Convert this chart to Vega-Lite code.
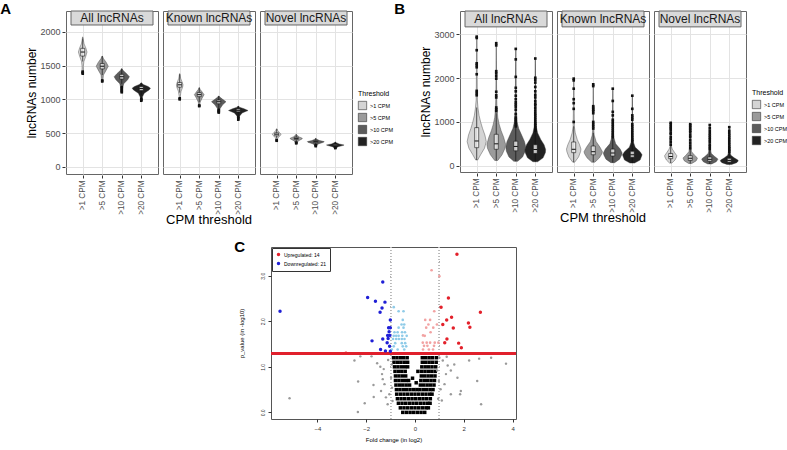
{
 "$schema": "https://vega.github.io/schema/vega-lite/v6.json",
 "padding": {"left": 0, "top": 2, "right": 0, "bottom": 0},
 "config": {
  "font": "Liberation Sans",
  "view": {"stroke": "#666", "strokeWidth": 1},
  "axis": {"domain": false, "labelColor": "#4d4d4d", "tickColor": "#333", "titleColor": "#000", "titleFontWeight": "normal", "labelFont": "Liberation Sans", "titleFont": "Liberation Sans"},
  "legend": {"layout": {"right": {"anchor": "middle"}}},
  "title": {"fontWeight": "bold", "fontSize": 15, "color": "#000", "font": "Liberation Sans"}
 },
 "datasets": {
  "A": [
   {"m":"s","p":"All lncRNAs"},{"m":"s","p":"Known lncRNAs"},{"m":"s","p":"Novel lncRNAs"},
   {"m":"v","p":"All lncRNAs","t":">1 CPM","y":1380,"lo":0.98,"hi":1.02},
   {"m":"v","p":"All lncRNAs","t":">1 CPM","y":1420,"lo":0.96,"hi":1.04},
   {"m":"v","p":"All lncRNAs","t":">1 CPM","y":1480,"lo":0.97,"hi":1.03},
   {"m":"v","p":"All lncRNAs","t":">1 CPM","y":1560,"lo":0.94,"hi":1.06},
   {"m":"v","p":"All lncRNAs","t":">1 CPM","y":1640,"lo":0.84,"hi":1.16},
   {"m":"v","p":"All lncRNAs","t":">1 CPM","y":1700,"lo":0.78,"hi":1.22},
   {"m":"v","p":"All lncRNAs","t":">1 CPM","y":1760,"lo":0.84,"hi":1.16},
   {"m":"v","p":"All lncRNAs","t":">1 CPM","y":1820,"lo":0.93,"hi":1.07},
   {"m":"v","p":"All lncRNAs","t":">1 CPM","y":1880,"lo":0.97,"hi":1.03},
   {"m":"v","p":"All lncRNAs","t":">1 CPM","y":1923,"lo":0.99,"hi":1.01},
   {"m":"v","p":"All lncRNAs","t":">5 CPM","y":1260,"lo":1.98,"hi":2.02},
   {"m":"v","p":"All lncRNAs","t":">5 CPM","y":1300,"lo":1.96,"hi":2.04},
   {"m":"v","p":"All lncRNAs","t":">5 CPM","y":1360,"lo":1.94,"hi":2.06},
   {"m":"v","p":"All lncRNAs","t":">5 CPM","y":1420,"lo":1.82,"hi":2.18},
   {"m":"v","p":"All lncRNAs","t":">5 CPM","y":1490,"lo":1.69,"hi":2.31},
   {"m":"v","p":"All lncRNAs","t":">5 CPM","y":1550,"lo":1.8,"hi":2.2},
   {"m":"v","p":"All lncRNAs","t":">5 CPM","y":1600,"lo":1.93,"hi":2.07},
   {"m":"v","p":"All lncRNAs","t":">5 CPM","y":1640,"lo":1.99,"hi":2.01},
   {"m":"v","p":"All lncRNAs","t":">10 CPM","y":1100,"lo":2.98,"hi":3.02},
   {"m":"v","p":"All lncRNAs","t":">10 CPM","y":1160,"lo":2.96,"hi":3.04},
   {"m":"v","p":"All lncRNAs","t":">10 CPM","y":1230,"lo":2.9,"hi":3.1},
   {"m":"v","p":"All lncRNAs","t":">10 CPM","y":1290,"lo":2.7,"hi":3.3},
   {"m":"v","p":"All lncRNAs","t":">10 CPM","y":1335,"lo":2.61,"hi":3.39},
   {"m":"v","p":"All lncRNAs","t":">10 CPM","y":1380,"lo":2.75,"hi":3.25},
   {"m":"v","p":"All lncRNAs","t":">10 CPM","y":1430,"lo":2.94,"hi":3.06},
   {"m":"v","p":"All lncRNAs","t":">10 CPM","y":1455,"lo":2.99,"hi":3.01},
   {"m":"v","p":"All lncRNAs","t":">20 CPM","y":975,"lo":3.98,"hi":4.02},
   {"m":"v","p":"All lncRNAs","t":">20 CPM","y":1030,"lo":3.95,"hi":4.05},
   {"m":"v","p":"All lncRNAs","t":">20 CPM","y":1090,"lo":3.85,"hi":4.15},
   {"m":"v","p":"All lncRNAs","t":">20 CPM","y":1140,"lo":3.6,"hi":4.4},
   {"m":"v","p":"All lncRNAs","t":">20 CPM","y":1165,"lo":3.53,"hi":4.47},
   {"m":"v","p":"All lncRNAs","t":">20 CPM","y":1190,"lo":3.65,"hi":4.35},
   {"m":"v","p":"All lncRNAs","t":">20 CPM","y":1220,"lo":3.9,"hi":4.1},
   {"m":"v","p":"All lncRNAs","t":">20 CPM","y":1245,"lo":3.99,"hi":4.01},
   {"m":"v","p":"Known lncRNAs","t":">1 CPM","y":1000,"lo":0.98,"hi":1.02},
   {"m":"v","p":"Known lncRNAs","t":">1 CPM","y":1050,"lo":0.97,"hi":1.03},
   {"m":"v","p":"Known lncRNAs","t":">1 CPM","y":1120,"lo":0.93,"hi":1.07},
   {"m":"v","p":"Known lncRNAs","t":">1 CPM","y":1180,"lo":0.85,"hi":1.15},
   {"m":"v","p":"Known lncRNAs","t":">1 CPM","y":1215,"lo":0.83,"hi":1.17},
   {"m":"v","p":"Known lncRNAs","t":">1 CPM","y":1260,"lo":0.88,"hi":1.12},
   {"m":"v","p":"Known lncRNAs","t":">1 CPM","y":1310,"lo":0.95,"hi":1.05},
   {"m":"v","p":"Known lncRNAs","t":">1 CPM","y":1380,"lo":0.99,"hi":1.01},
   {"m":"v","p":"Known lncRNAs","t":">5 CPM","y":900,"lo":1.98,"hi":2.02},
   {"m":"v","p":"Known lncRNAs","t":">5 CPM","y":960,"lo":1.95,"hi":2.05},
   {"m":"v","p":"Known lncRNAs","t":">5 CPM","y":1020,"lo":1.85,"hi":2.15},
   {"m":"v","p":"Known lncRNAs","t":">5 CPM","y":1070,"lo":1.75,"hi":2.25},
   {"m":"v","p":"Known lncRNAs","t":">5 CPM","y":1110,"lo":1.85,"hi":2.15},
   {"m":"v","p":"Known lncRNAs","t":">5 CPM","y":1150,"lo":1.96,"hi":2.04},
   {"m":"v","p":"Known lncRNAs","t":">5 CPM","y":1175,"lo":1.99,"hi":2.01},
   {"m":"v","p":"Known lncRNAs","t":">10 CPM","y":800,"lo":2.98,"hi":3.02},
   {"m":"v","p":"Known lncRNAs","t":">10 CPM","y":860,"lo":2.94,"hi":3.06},
   {"m":"v","p":"Known lncRNAs","t":">10 CPM","y":920,"lo":2.8,"hi":3.2},
   {"m":"v","p":"Known lncRNAs","t":">10 CPM","y":965,"lo":2.63,"hi":3.37},
   {"m":"v","p":"Known lncRNAs","t":">10 CPM","y":1000,"lo":2.8,"hi":3.2},
   {"m":"v","p":"Known lncRNAs","t":">10 CPM","y":1035,"lo":2.95,"hi":3.05},
   {"m":"v","p":"Known lncRNAs","t":">10 CPM","y":1050,"lo":2.99,"hi":3.01},
   {"m":"v","p":"Known lncRNAs","t":">20 CPM","y":695,"lo":3.98,"hi":4.02},
   {"m":"v","p":"Known lncRNAs","t":">20 CPM","y":750,"lo":3.94,"hi":4.06},
   {"m":"v","p":"Known lncRNAs","t":">20 CPM","y":800,"lo":3.8,"hi":4.2},
   {"m":"v","p":"Known lncRNAs","t":">20 CPM","y":835,"lo":3.5,"hi":4.5},
   {"m":"v","p":"Known lncRNAs","t":">20 CPM","y":860,"lo":3.7,"hi":4.3},
   {"m":"v","p":"Known lncRNAs","t":">20 CPM","y":885,"lo":3.94,"hi":4.06},
   {"m":"v","p":"Known lncRNAs","t":">20 CPM","y":902,"lo":3.99,"hi":4.01},
   {"m":"v","p":"Novel lncRNAs","t":">1 CPM","y":385,"lo":0.98,"hi":1.02},
   {"m":"v","p":"Novel lncRNAs","t":">1 CPM","y":430,"lo":0.94,"hi":1.06},
   {"m":"v","p":"Novel lncRNAs","t":">1 CPM","y":470,"lo":0.8,"hi":1.2},
   {"m":"v","p":"Novel lncRNAs","t":">1 CPM","y":485,"lo":0.78,"hi":1.22},
   {"m":"v","p":"Novel lncRNAs","t":">1 CPM","y":510,"lo":0.86,"hi":1.14},
   {"m":"v","p":"Novel lncRNAs","t":">1 CPM","y":540,"lo":0.95,"hi":1.05},
   {"m":"v","p":"Novel lncRNAs","t":">1 CPM","y":565,"lo":0.99,"hi":1.01},
   {"m":"v","p":"Novel lncRNAs","t":">5 CPM","y":345,"lo":1.98,"hi":2.02},
   {"m":"v","p":"Novel lncRNAs","t":">5 CPM","y":385,"lo":1.9,"hi":2.1},
   {"m":"v","p":"Novel lncRNAs","t":">5 CPM","y":415,"lo":1.7,"hi":2.3},
   {"m":"v","p":"Novel lncRNAs","t":">5 CPM","y":425,"lo":1.69,"hi":2.31},
   {"m":"v","p":"Novel lncRNAs","t":">5 CPM","y":445,"lo":1.85,"hi":2.15},
   {"m":"v","p":"Novel lncRNAs","t":">5 CPM","y":470,"lo":1.96,"hi":2.04},
   {"m":"v","p":"Novel lncRNAs","t":">5 CPM","y":483,"lo":1.99,"hi":2.01},
   {"m":"v","p":"Novel lncRNAs","t":">10 CPM","y":300,"lo":2.98,"hi":3.02},
   {"m":"v","p":"Novel lncRNAs","t":">10 CPM","y":340,"lo":2.88,"hi":3.12},
   {"m":"v","p":"Novel lncRNAs","t":">10 CPM","y":365,"lo":2.6,"hi":3.4},
   {"m":"v","p":"Novel lncRNAs","t":">10 CPM","y":375,"lo":2.57,"hi":3.43},
   {"m":"v","p":"Novel lncRNAs","t":">10 CPM","y":390,"lo":2.8,"hi":3.2},
   {"m":"v","p":"Novel lncRNAs","t":">10 CPM","y":410,"lo":2.95,"hi":3.05},
   {"m":"v","p":"Novel lncRNAs","t":">10 CPM","y":424,"lo":2.99,"hi":3.01},
   {"m":"v","p":"Novel lncRNAs","t":">20 CPM","y":277,"lo":3.98,"hi":4.02},
   {"m":"v","p":"Novel lncRNAs","t":">20 CPM","y":300,"lo":3.85,"hi":4.15},
   {"m":"v","p":"Novel lncRNAs","t":">20 CPM","y":320,"lo":3.58,"hi":4.42},
   {"m":"v","p":"Novel lncRNAs","t":">20 CPM","y":325,"lo":3.55,"hi":4.45},
   {"m":"v","p":"Novel lncRNAs","t":">20 CPM","y":340,"lo":3.8,"hi":4.2},
   {"m":"v","p":"Novel lncRNAs","t":">20 CPM","y":360,"lo":3.95,"hi":4.05},
   {"m":"v","p":"Novel lncRNAs","t":">20 CPM","y":370,"lo":3.99,"hi":4.01},
   {"m":"b","p":"All lncRNAs","t":">1 CPM","x":1,"q1":1640,"md":1700,"q3":1755,"lw":1560,"uw":1900},
   {"m":"b","p":"All lncRNAs","t":">5 CPM","x":2,"q1":1450,"md":1490,"q3":1530,"lw":1360,"uw":1640},
   {"m":"b","p":"All lncRNAs","t":">10 CPM","x":3,"q1":1300,"md":1335,"q3":1370,"lw":1230,"uw":1450},
   {"m":"b","p":"All lncRNAs","t":">20 CPM","x":4,"q1":1130,"md":1160,"q3":1190,"lw":1060,"uw":1240},
   {"m":"b","p":"Known lncRNAs","t":">1 CPM","x":1,"q1":1180,"md":1215,"q3":1250,"lw":1100,"uw":1370},
   {"m":"b","p":"Known lncRNAs","t":">5 CPM","x":2,"q1":1040,"md":1070,"q3":1100,"lw":960,"uw":1170},
   {"m":"b","p":"Known lncRNAs","t":">10 CPM","x":3,"q1":935,"md":965,"q3":990,"lw":860,"uw":1050},
   {"m":"b","p":"Known lncRNAs","t":">20 CPM","x":4,"q1":815,"md":838,"q3":860,"lw":760,"uw":900},
   {"m":"b","p":"Novel lncRNAs","t":">1 CPM","x":1,"q1":460,"md":485,"q3":505,"lw":420,"uw":560},
   {"m":"b","p":"Novel lncRNAs","t":">5 CPM","x":2,"q1":405,"md":423,"q3":440,"lw":370,"uw":480},
   {"m":"b","p":"Novel lncRNAs","t":">10 CPM","x":3,"q1":360,"md":375,"q3":390,"lw":335,"uw":420},
   {"m":"b","p":"Novel lncRNAs","t":">20 CPM","x":4,"q1":315,"md":325,"q3":337,"lw":295,"uw":368},
   {"m":"o","p":"All lncRNAs","x":1,"y":1410},{"m":"o","p":"All lncRNAs","x":1,"y":1395},{"m":"o","p":"All lncRNAs","x":1,"y":1380},
   {"m":"o","p":"All lncRNAs","x":2,"y":1280},{"m":"o","p":"All lncRNAs","x":2,"y":1265},
   {"m":"o","p":"All lncRNAs","x":3,"y":1180},{"m":"o","p":"All lncRNAs","x":3,"y":1160},{"m":"o","p":"All lncRNAs","x":3,"y":1140},{"m":"o","p":"All lncRNAs","x":3,"y":1120},{"m":"o","p":"All lncRNAs","x":3,"y":1105},
   {"m":"o","p":"All lncRNAs","x":4,"y":1010},{"m":"o","p":"All lncRNAs","x":4,"y":995},{"m":"o","p":"All lncRNAs","x":4,"y":980},
   {"m":"o","p":"Known lncRNAs","x":1,"y":1015},{"m":"o","p":"Known lncRNAs","x":1,"y":1000},
   {"m":"o","p":"Known lncRNAs","x":2,"y":910},{"m":"o","p":"Known lncRNAs","x":2,"y":900},
   {"m":"o","p":"Known lncRNAs","x":3,"y":845},{"m":"o","p":"Known lncRNAs","x":3,"y":830},{"m":"o","p":"Known lncRNAs","x":3,"y":815},{"m":"o","p":"Known lncRNAs","x":3,"y":805},
   {"m":"o","p":"Known lncRNAs","x":4,"y":740},{"m":"o","p":"Known lncRNAs","x":4,"y":720},{"m":"o","p":"Known lncRNAs","x":4,"y":700},
   {"m":"o","p":"Novel lncRNAs","x":1,"y":395},{"m":"o","p":"Novel lncRNAs","x":1,"y":388},
   {"m":"o","p":"Novel lncRNAs","x":2,"y":360},{"m":"o","p":"Novel lncRNAs","x":2,"y":350},
   {"m":"o","p":"Novel lncRNAs","x":3,"y":320},{"m":"o","p":"Novel lncRNAs","x":3,"y":308},
   {"m":"o","p":"Novel lncRNAs","x":4,"y":285},{"m":"o","p":"Novel lncRNAs","x":4,"y":279}
  ],
  "B": [
   {"m":"s","p":"All lncRNAs"},{"m":"s","p":"Known lncRNAs"},{"m":"s","p":"Novel lncRNAs"},
   {"m":"v","p":"All lncRNAs","t":">1 CPM","y":130,"lo":0.95,"hi":1.05},
   {"m":"v","p":"All lncRNAs","t":">1 CPM","y":250,"lo":0.8,"hi":1.2},
   {"m":"v","p":"All lncRNAs","t":">1 CPM","y":400,"lo":0.6,"hi":1.4},
   {"m":"v","p":"All lncRNAs","t":">1 CPM","y":550,"lo":0.51,"hi":1.49},
   {"m":"v","p":"All lncRNAs","t":">1 CPM","y":700,"lo":0.58,"hi":1.42},
   {"m":"v","p":"All lncRNAs","t":">1 CPM","y":850,"lo":0.7,"hi":1.3},
   {"m":"v","p":"All lncRNAs","t":">1 CPM","y":1000,"lo":0.8,"hi":1.2},
   {"m":"v","p":"All lncRNAs","t":">1 CPM","y":1150,"lo":0.88,"hi":1.12},
   {"m":"v","p":"All lncRNAs","t":">1 CPM","y":1300,"lo":0.93,"hi":1.07},
   {"m":"v","p":"All lncRNAs","t":">1 CPM","y":1500,"lo":0.97,"hi":1.03},
   {"m":"v","p":"All lncRNAs","t":">1 CPM","y":1800,"lo":0.98,"hi":1.02},
   {"m":"v","p":"All lncRNAs","t":">1 CPM","y":2200,"lo":0.985,"hi":1.015},
   {"m":"v","p":"All lncRNAs","t":">1 CPM","y":2600,"lo":0.99,"hi":1.01},
   {"m":"v","p":"All lncRNAs","t":">1 CPM","y":2950,"lo":0.995,"hi":1.005},
   {"m":"v","p":"All lncRNAs","t":">5 CPM","y":120,"lo":1.92,"hi":2.08},
   {"m":"v","p":"All lncRNAs","t":">5 CPM","y":250,"lo":1.7,"hi":2.3},
   {"m":"v","p":"All lncRNAs","t":">5 CPM","y":400,"lo":1.55,"hi":2.45},
   {"m":"v","p":"All lncRNAs","t":">5 CPM","y":490,"lo":1.52,"hi":2.48},
   {"m":"v","p":"All lncRNAs","t":">5 CPM","y":650,"lo":1.62,"hi":2.38},
   {"m":"v","p":"All lncRNAs","t":">5 CPM","y":800,"lo":1.75,"hi":2.25},
   {"m":"v","p":"All lncRNAs","t":">5 CPM","y":950,"lo":1.85,"hi":2.15},
   {"m":"v","p":"All lncRNAs","t":">5 CPM","y":1100,"lo":1.92,"hi":2.08},
   {"m":"v","p":"All lncRNAs","t":">5 CPM","y":1300,"lo":1.96,"hi":2.04},
   {"m":"v","p":"All lncRNAs","t":">5 CPM","y":1600,"lo":1.98,"hi":2.02},
   {"m":"v","p":"All lncRNAs","t":">5 CPM","y":2000,"lo":1.985,"hi":2.015},
   {"m":"v","p":"All lncRNAs","t":">5 CPM","y":2400,"lo":1.99,"hi":2.01},
   {"m":"v","p":"All lncRNAs","t":">5 CPM","y":2800,"lo":1.995,"hi":2.005},
   {"m":"v","p":"All lncRNAs","t":">10 CPM","y":100,"lo":2.9,"hi":3.1},
   {"m":"v","p":"All lncRNAs","t":">10 CPM","y":200,"lo":2.65,"hi":3.35},
   {"m":"v","p":"All lncRNAs","t":">10 CPM","y":330,"lo":2.52,"hi":3.48},
   {"m":"v","p":"All lncRNAs","t":">10 CPM","y":430,"lo":2.49,"hi":3.51},
   {"m":"v","p":"All lncRNAs","t":">10 CPM","y":550,"lo":2.55,"hi":3.45},
   {"m":"v","p":"All lncRNAs","t":">10 CPM","y":700,"lo":2.7,"hi":3.3},
   {"m":"v","p":"All lncRNAs","t":">10 CPM","y":850,"lo":2.85,"hi":3.15},
   {"m":"v","p":"All lncRNAs","t":">10 CPM","y":1000,"lo":2.93,"hi":3.07},
   {"m":"v","p":"All lncRNAs","t":">10 CPM","y":1200,"lo":2.965,"hi":3.035},
   {"m":"v","p":"All lncRNAs","t":">10 CPM","y":1500,"lo":2.98,"hi":3.02},
   {"m":"v","p":"All lncRNAs","t":">10 CPM","y":2000,"lo":2.985,"hi":3.015},
   {"m":"v","p":"All lncRNAs","t":">10 CPM","y":2670,"lo":2.995,"hi":3.005},
   {"m":"v","p":"All lncRNAs","t":">20 CPM","y":90,"lo":3.88,"hi":4.12},
   {"m":"v","p":"All lncRNAs","t":">20 CPM","y":180,"lo":3.6,"hi":4.4},
   {"m":"v","p":"All lncRNAs","t":">20 CPM","y":300,"lo":3.48,"hi":4.52},
   {"m":"v","p":"All lncRNAs","t":">20 CPM","y":370,"lo":3.47,"hi":4.53},
   {"m":"v","p":"All lncRNAs","t":">20 CPM","y":480,"lo":3.55,"hi":4.45},
   {"m":"v","p":"All lncRNAs","t":">20 CPM","y":600,"lo":3.72,"hi":4.28},
   {"m":"v","p":"All lncRNAs","t":">20 CPM","y":750,"lo":3.88,"hi":4.12},
   {"m":"v","p":"All lncRNAs","t":">20 CPM","y":900,"lo":3.95,"hi":4.05},
   {"m":"v","p":"All lncRNAs","t":">20 CPM","y":1100,"lo":3.97,"hi":4.03},
   {"m":"v","p":"All lncRNAs","t":">20 CPM","y":1400,"lo":3.98,"hi":4.02},
   {"m":"v","p":"All lncRNAs","t":">20 CPM","y":1900,"lo":3.988,"hi":4.012},
   {"m":"v","p":"All lncRNAs","t":">20 CPM","y":2450,"lo":3.995,"hi":4.005},
   {"m":"v","p":"Known lncRNAs","t":">1 CPM","y":80,"lo":0.95,"hi":1.05},
   {"m":"v","p":"Known lncRNAs","t":">1 CPM","y":200,"lo":0.75,"hi":1.25},
   {"m":"v","p":"Known lncRNAs","t":">1 CPM","y":320,"lo":0.65,"hi":1.35},
   {"m":"v","p":"Known lncRNAs","t":">1 CPM","y":380,"lo":0.63,"hi":1.37},
   {"m":"v","p":"Known lncRNAs","t":">1 CPM","y":480,"lo":0.7,"hi":1.3},
   {"m":"v","p":"Known lncRNAs","t":">1 CPM","y":600,"lo":0.82,"hi":1.18},
   {"m":"v","p":"Known lncRNAs","t":">1 CPM","y":750,"lo":0.92,"hi":1.08},
   {"m":"v","p":"Known lncRNAs","t":">1 CPM","y":900,"lo":0.97,"hi":1.03},
   {"m":"v","p":"Known lncRNAs","t":">1 CPM","y":1200,"lo":0.98,"hi":1.02},
   {"m":"v","p":"Known lncRNAs","t":">1 CPM","y":1600,"lo":0.99,"hi":1.01},
   {"m":"v","p":"Known lncRNAs","t":">1 CPM","y":1980,"lo":0.995,"hi":1.005},
   {"m":"v","p":"Known lncRNAs","t":">5 CPM","y":80,"lo":1.92,"hi":2.08},
   {"m":"v","p":"Known lncRNAs","t":">5 CPM","y":180,"lo":1.68,"hi":2.32},
   {"m":"v","p":"Known lncRNAs","t":">5 CPM","y":280,"lo":1.55,"hi":2.45},
   {"m":"v","p":"Known lncRNAs","t":">5 CPM","y":320,"lo":1.53,"hi":2.47},
   {"m":"v","p":"Known lncRNAs","t":">5 CPM","y":420,"lo":1.65,"hi":2.35},
   {"m":"v","p":"Known lncRNAs","t":">5 CPM","y":550,"lo":1.85,"hi":2.15},
   {"m":"v","p":"Known lncRNAs","t":">5 CPM","y":700,"lo":1.95,"hi":2.05},
   {"m":"v","p":"Known lncRNAs","t":">5 CPM","y":900,"lo":1.98,"hi":2.02},
   {"m":"v","p":"Known lncRNAs","t":">5 CPM","y":1300,"lo":1.985,"hi":2.015},
   {"m":"v","p":"Known lncRNAs","t":">5 CPM","y":1850,"lo":1.995,"hi":2.005},
   {"m":"v","p":"Known lncRNAs","t":">10 CPM","y":70,"lo":2.9,"hi":3.1},
   {"m":"v","p":"Known lncRNAs","t":">10 CPM","y":150,"lo":2.65,"hi":3.35},
   {"m":"v","p":"Known lncRNAs","t":">10 CPM","y":250,"lo":2.54,"hi":3.46},
   {"m":"v","p":"Known lncRNAs","t":">10 CPM","y":290,"lo":2.52,"hi":3.48},
   {"m":"v","p":"Known lncRNAs","t":">10 CPM","y":380,"lo":2.62,"hi":3.38},
   {"m":"v","p":"Known lncRNAs","t":">10 CPM","y":500,"lo":2.85,"hi":3.15},
   {"m":"v","p":"Known lncRNAs","t":">10 CPM","y":650,"lo":2.95,"hi":3.05},
   {"m":"v","p":"Known lncRNAs","t":">10 CPM","y":850,"lo":2.98,"hi":3.02},
   {"m":"v","p":"Known lncRNAs","t":">10 CPM","y":1200,"lo":2.988,"hi":3.012},
   {"m":"v","p":"Known lncRNAs","t":">10 CPM","y":1750,"lo":2.995,"hi":3.005},
   {"m":"v","p":"Known lncRNAs","t":">20 CPM","y":60,"lo":3.88,"hi":4.12},
   {"m":"v","p":"Known lncRNAs","t":">20 CPM","y":130,"lo":3.6,"hi":4.4},
   {"m":"v","p":"Known lncRNAs","t":">20 CPM","y":220,"lo":3.52,"hi":4.48},
   {"m":"v","p":"Known lncRNAs","t":">20 CPM","y":250,"lo":3.5,"hi":4.5},
   {"m":"v","p":"Known lncRNAs","t":">20 CPM","y":320,"lo":3.6,"hi":4.4},
   {"m":"v","p":"Known lncRNAs","t":">20 CPM","y":420,"lo":3.85,"hi":4.15},
   {"m":"v","p":"Known lncRNAs","t":">20 CPM","y":550,"lo":3.95,"hi":4.05},
   {"m":"v","p":"Known lncRNAs","t":">20 CPM","y":750,"lo":3.98,"hi":4.02},
   {"m":"v","p":"Known lncRNAs","t":">20 CPM","y":1100,"lo":3.988,"hi":4.012},
   {"m":"v","p":"Known lncRNAs","t":">20 CPM","y":1580,"lo":3.995,"hi":4.005},
   {"m":"v","p":"Novel lncRNAs","t":">1 CPM","y":60,"lo":0.94,"hi":1.06},
   {"m":"v","p":"Novel lncRNAs","t":">1 CPM","y":130,"lo":0.78,"hi":1.22},
   {"m":"v","p":"Novel lncRNAs","t":">1 CPM","y":200,"lo":0.7,"hi":1.3},
   {"m":"v","p":"Novel lncRNAs","t":">1 CPM","y":230,"lo":0.69,"hi":1.31},
   {"m":"v","p":"Novel lncRNAs","t":">1 CPM","y":300,"lo":0.8,"hi":1.2},
   {"m":"v","p":"Novel lncRNAs","t":">1 CPM","y":380,"lo":0.92,"hi":1.08},
   {"m":"v","p":"Novel lncRNAs","t":">1 CPM","y":450,"lo":0.97,"hi":1.03},
   {"m":"v","p":"Novel lncRNAs","t":">1 CPM","y":600,"lo":0.985,"hi":1.015},
   {"m":"v","p":"Novel lncRNAs","t":">1 CPM","y":960,"lo":0.995,"hi":1.005},
   {"m":"v","p":"Novel lncRNAs","t":">5 CPM","y":50,"lo":1.92,"hi":2.08},
   {"m":"v","p":"Novel lncRNAs","t":">5 CPM","y":110,"lo":1.7,"hi":2.3},
   {"m":"v","p":"Novel lncRNAs","t":">5 CPM","y":160,"lo":1.64,"hi":2.36},
   {"m":"v","p":"Novel lncRNAs","t":">5 CPM","y":180,"lo":1.64,"hi":2.36},
   {"m":"v","p":"Novel lncRNAs","t":">5 CPM","y":240,"lo":1.78,"hi":2.22},
   {"m":"v","p":"Novel lncRNAs","t":">5 CPM","y":320,"lo":1.93,"hi":2.07},
   {"m":"v","p":"Novel lncRNAs","t":">5 CPM","y":420,"lo":1.97,"hi":2.03},
   {"m":"v","p":"Novel lncRNAs","t":">5 CPM","y":600,"lo":1.985,"hi":2.015},
   {"m":"v","p":"Novel lncRNAs","t":">5 CPM","y":940,"lo":1.995,"hi":2.005},
   {"m":"v","p":"Novel lncRNAs","t":">10 CPM","y":40,"lo":2.9,"hi":3.1},
   {"m":"v","p":"Novel lncRNAs","t":">10 CPM","y":90,"lo":2.67,"hi":3.33},
   {"m":"v","p":"Novel lncRNAs","t":">10 CPM","y":140,"lo":2.59,"hi":3.41},
   {"m":"v","p":"Novel lncRNAs","t":">10 CPM","y":160,"lo":2.6,"hi":3.4},
   {"m":"v","p":"Novel lncRNAs","t":">10 CPM","y":210,"lo":2.75,"hi":3.25},
   {"m":"v","p":"Novel lncRNAs","t":">10 CPM","y":280,"lo":2.92,"hi":3.08},
   {"m":"v","p":"Novel lncRNAs","t":">10 CPM","y":380,"lo":2.97,"hi":3.03},
   {"m":"v","p":"Novel lncRNAs","t":">10 CPM","y":600,"lo":2.988,"hi":3.012},
   {"m":"v","p":"Novel lncRNAs","t":">10 CPM","y":920,"lo":2.995,"hi":3.005},
   {"m":"v","p":"Novel lncRNAs","t":">20 CPM","y":30,"lo":3.88,"hi":4.12},
   {"m":"v","p":"Novel lncRNAs","t":">20 CPM","y":70,"lo":3.62,"hi":4.38},
   {"m":"v","p":"Novel lncRNAs","t":">20 CPM","y":110,"lo":3.54,"hi":4.46},
   {"m":"v","p":"Novel lncRNAs","t":">20 CPM","y":130,"lo":3.56,"hi":4.44},
   {"m":"v","p":"Novel lncRNAs","t":">20 CPM","y":180,"lo":3.75,"hi":4.25},
   {"m":"v","p":"Novel lncRNAs","t":">20 CPM","y":240,"lo":3.92,"hi":4.08},
   {"m":"v","p":"Novel lncRNAs","t":">20 CPM","y":330,"lo":3.97,"hi":4.03},
   {"m":"v","p":"Novel lncRNAs","t":">20 CPM","y":550,"lo":3.988,"hi":4.012},
   {"m":"v","p":"Novel lncRNAs","t":">20 CPM","y":870,"lo":3.995,"hi":4.005},
   {"m":"b","p":"All lncRNAs","t":">1 CPM","x":1,"q1":412,"md":565,"q3":870,"lw":130,"uw":1330},
   {"m":"b","p":"All lncRNAs","t":">5 CPM","x":2,"q1":375,"md":500,"q3":718,"lw":120,"uw":1200},
   {"m":"b","p":"All lncRNAs","t":">10 CPM","x":3,"q1":340,"md":440,"q3":560,"lw":100,"uw":890},
   {"m":"b","p":"All lncRNAs","t":">20 CPM","x":4,"q1":280,"md":370,"q3":480,"lw":90,"uw":780},
   {"m":"b","p":"Known lncRNAs","t":">1 CPM","x":1,"q1":298,"md":375,"q3":542,"lw":80,"uw":900},
   {"m":"b","p":"Known lncRNAs","t":">5 CPM","x":2,"q1":250,"md":320,"q3":450,"lw":80,"uw":750},
   {"m":"b","p":"Known lncRNAs","t":">10 CPM","x":3,"q1":220,"md":290,"q3":380,"lw":70,"uw":620},
   {"m":"b","p":"Known lncRNAs","t":">20 CPM","x":4,"q1":190,"md":250,"q3":330,"lw":60,"uw":530},
   {"m":"b","p":"Novel lncRNAs","t":">1 CPM","x":1,"q1":160,"md":210,"q3":280,"lw":60,"uw":460},
   {"m":"b","p":"Novel lncRNAs","t":">5 CPM","x":2,"q1":120,"md":170,"q3":230,"lw":50,"uw":390},
   {"m":"b","p":"Novel lncRNAs","t":">10 CPM","x":3,"q1":100,"md":145,"q3":200,"lw":40,"uw":350},
   {"m":"b","p":"Novel lncRNAs","t":">20 CPM","x":4,"q1":80,"md":120,"q3":170,"lw":30,"uw":300},
   {"m":"o","p":"All lncRNAs","x":1,"y":2950},{"m":"o","p":"All lncRNAs","x":1,"y":2920},{"m":"o","p":"All lncRNAs","x":1,"y":2640},{"m":"o","p":"All lncRNAs","x":1,"y":2340},{"m":"o","p":"All lncRNAs","x":1,"y":2300},{"m":"o","p":"All lncRNAs","x":1,"y":2250},{"m":"o","p":"All lncRNAs","x":1,"y":2090},{"m":"o","p":"All lncRNAs","x":1,"y":1710},{"m":"o","p":"All lncRNAs","x":1,"y":1660},{"m":"o","p":"All lncRNAs","x":1,"y":1610},
   {"m":"o","p":"All lncRNAs","x":2,"y":2800},{"m":"o","p":"All lncRNAs","x":2,"y":2750},{"m":"o","p":"All lncRNAs","x":2,"y":2160},{"m":"o","p":"All lncRNAs","x":2,"y":2110},{"m":"o","p":"All lncRNAs","x":2,"y":2050},{"m":"o","p":"All lncRNAs","x":2,"y":1990},{"m":"o","p":"All lncRNAs","x":2,"y":1690},{"m":"o","p":"All lncRNAs","x":2,"y":1610},{"m":"o","p":"All lncRNAs","x":2,"y":1560},{"m":"o","p":"All lncRNAs","x":2,"y":1330},{"m":"o","p":"All lncRNAs","x":2,"y":1290},{"m":"o","p":"All lncRNAs","x":2,"y":1250},
   {"m":"o","p":"All lncRNAs","x":3,"y":2670},{"m":"o","p":"All lncRNAs","x":3,"y":2430},{"m":"o","p":"All lncRNAs","x":3,"y":2030},{"m":"o","p":"All lncRNAs","x":3,"y":1780},{"m":"o","p":"All lncRNAs","x":3,"y":1700},{"m":"o","p":"All lncRNAs","x":3,"y":1600},{"m":"o","p":"All lncRNAs","x":3,"y":1520},{"m":"o","p":"All lncRNAs","x":3,"y":1450},{"m":"o","p":"All lncRNAs","x":3,"y":1400},{"m":"o","p":"All lncRNAs","x":3,"y":1350},{"m":"o","p":"All lncRNAs","x":3,"y":1280},{"m":"o","p":"All lncRNAs","x":3,"y":1180},{"m":"o","p":"All lncRNAs","x":3,"y":1100},{"m":"o","p":"All lncRNAs","x":3,"y":1050},{"m":"o","p":"All lncRNAs","x":3,"y":1000},{"m":"o","p":"All lncRNAs","x":3,"y":950},{"m":"o","p":"All lncRNAs","x":3,"y":900},
   {"m":"o","p":"All lncRNAs","x":4,"y":2450},{"m":"o","p":"All lncRNAs","x":4,"y":2010},{"m":"o","p":"All lncRNAs","x":4,"y":1960},{"m":"o","p":"All lncRNAs","x":4,"y":1900},{"m":"o","p":"All lncRNAs","x":4,"y":1800},{"m":"o","p":"All lncRNAs","x":4,"y":1700},{"m":"o","p":"All lncRNAs","x":4,"y":1620},{"m":"o","p":"All lncRNAs","x":4,"y":1560},{"m":"o","p":"All lncRNAs","x":4,"y":1480},{"m":"o","p":"All lncRNAs","x":4,"y":1420},{"m":"o","p":"All lncRNAs","x":4,"y":1380},{"m":"o","p":"All lncRNAs","x":4,"y":1320},{"m":"o","p":"All lncRNAs","x":4,"y":1260},{"m":"o","p":"All lncRNAs","x":4,"y":1200},{"m":"o","p":"All lncRNAs","x":4,"y":1150},{"m":"o","p":"All lncRNAs","x":4,"y":1100},{"m":"o","p":"All lncRNAs","x":4,"y":1050},{"m":"o","p":"All lncRNAs","x":4,"y":1000},{"m":"o","p":"All lncRNAs","x":4,"y":960},{"m":"o","p":"All lncRNAs","x":4,"y":920},{"m":"o","p":"All lncRNAs","x":4,"y":880},{"m":"o","p":"All lncRNAs","x":4,"y":840},{"m":"o","p":"All lncRNAs","x":4,"y":800},
   {"m":"o","p":"Known lncRNAs","x":1,"y":1990},{"m":"o","p":"Known lncRNAs","x":1,"y":1950},{"m":"o","p":"Known lncRNAs","x":1,"y":1760},{"m":"o","p":"Known lncRNAs","x":1,"y":1520},{"m":"o","p":"Known lncRNAs","x":1,"y":1430},{"m":"o","p":"Known lncRNAs","x":1,"y":1300},{"m":"o","p":"Known lncRNAs","x":1,"y":1000},
   {"m":"o","p":"Known lncRNAs","x":2,"y":1860},{"m":"o","p":"Known lncRNAs","x":2,"y":1820},{"m":"o","p":"Known lncRNAs","x":2,"y":1360},{"m":"o","p":"Known lncRNAs","x":2,"y":1320},{"m":"o","p":"Known lncRNAs","x":2,"y":1280},{"m":"o","p":"Known lncRNAs","x":2,"y":1250},{"m":"o","p":"Known lncRNAs","x":2,"y":1200},{"m":"o","p":"Known lncRNAs","x":2,"y":1000},{"m":"o","p":"Known lncRNAs","x":2,"y":950},{"m":"o","p":"Known lncRNAs","x":2,"y":900},{"m":"o","p":"Known lncRNAs","x":2,"y":850},
   {"m":"o","p":"Known lncRNAs","x":3,"y":1760},{"m":"o","p":"Known lncRNAs","x":3,"y":1480},{"m":"o","p":"Known lncRNAs","x":3,"y":1230},{"m":"o","p":"Known lncRNAs","x":3,"y":1150},{"m":"o","p":"Known lncRNAs","x":3,"y":1050},{"m":"o","p":"Known lncRNAs","x":3,"y":1000},{"m":"o","p":"Known lncRNAs","x":3,"y":950},{"m":"o","p":"Known lncRNAs","x":3,"y":900},{"m":"o","p":"Known lncRNAs","x":3,"y":850},{"m":"o","p":"Known lncRNAs","x":3,"y":800},{"m":"o","p":"Known lncRNAs","x":3,"y":750},{"m":"o","p":"Known lncRNAs","x":3,"y":700},{"m":"o","p":"Known lncRNAs","x":3,"y":650},
   {"m":"o","p":"Known lncRNAs","x":4,"y":1600},{"m":"o","p":"Known lncRNAs","x":4,"y":1300},{"m":"o","p":"Known lncRNAs","x":4,"y":1150},{"m":"o","p":"Known lncRNAs","x":4,"y":1100},{"m":"o","p":"Known lncRNAs","x":4,"y":1050},{"m":"o","p":"Known lncRNAs","x":4,"y":950},{"m":"o","p":"Known lncRNAs","x":4,"y":900},{"m":"o","p":"Known lncRNAs","x":4,"y":850},{"m":"o","p":"Known lncRNAs","x":4,"y":800},{"m":"o","p":"Known lncRNAs","x":4,"y":750},{"m":"o","p":"Known lncRNAs","x":4,"y":700},{"m":"o","p":"Known lncRNAs","x":4,"y":650},{"m":"o","p":"Known lncRNAs","x":4,"y":600},{"m":"o","p":"Known lncRNAs","x":4,"y":560},
   {"m":"o","p":"Novel lncRNAs","x":1,"y":980},{"m":"o","p":"Novel lncRNAs","x":1,"y":950},{"m":"o","p":"Novel lncRNAs","x":1,"y":900},{"m":"o","p":"Novel lncRNAs","x":1,"y":860},{"m":"o","p":"Novel lncRNAs","x":1,"y":820},{"m":"o","p":"Novel lncRNAs","x":1,"y":760},{"m":"o","p":"Novel lncRNAs","x":1,"y":720},{"m":"o","p":"Novel lncRNAs","x":1,"y":650},{"m":"o","p":"Novel lncRNAs","x":1,"y":600},{"m":"o","p":"Novel lncRNAs","x":1,"y":540},{"m":"o","p":"Novel lncRNAs","x":1,"y":480},
   {"m":"o","p":"Novel lncRNAs","x":2,"y":950},{"m":"o","p":"Novel lncRNAs","x":2,"y":920},{"m":"o","p":"Novel lncRNAs","x":2,"y":880},{"m":"o","p":"Novel lncRNAs","x":2,"y":840},{"m":"o","p":"Novel lncRNAs","x":2,"y":800},{"m":"o","p":"Novel lncRNAs","x":2,"y":760},{"m":"o","p":"Novel lncRNAs","x":2,"y":700},{"m":"o","p":"Novel lncRNAs","x":2,"y":650},{"m":"o","p":"Novel lncRNAs","x":2,"y":580},{"m":"o","p":"Novel lncRNAs","x":2,"y":520},{"m":"o","p":"Novel lncRNAs","x":2,"y":460},{"m":"o","p":"Novel lncRNAs","x":2,"y":400},
   {"m":"o","p":"Novel lncRNAs","x":3,"y":930},{"m":"o","p":"Novel lncRNAs","x":3,"y":860},{"m":"o","p":"Novel lncRNAs","x":3,"y":800},{"m":"o","p":"Novel lncRNAs","x":3,"y":740},{"m":"o","p":"Novel lncRNAs","x":3,"y":690},{"m":"o","p":"Novel lncRNAs","x":3,"y":640},{"m":"o","p":"Novel lncRNAs","x":3,"y":590},{"m":"o","p":"Novel lncRNAs","x":3,"y":540},{"m":"o","p":"Novel lncRNAs","x":3,"y":480},{"m":"o","p":"Novel lncRNAs","x":3,"y":430},{"m":"o","p":"Novel lncRNAs","x":3,"y":380},
   {"m":"o","p":"Novel lncRNAs","x":4,"y":880},{"m":"o","p":"Novel lncRNAs","x":4,"y":800},{"m":"o","p":"Novel lncRNAs","x":4,"y":740},{"m":"o","p":"Novel lncRNAs","x":4,"y":690},{"m":"o","p":"Novel lncRNAs","x":4,"y":640},{"m":"o","p":"Novel lncRNAs","x":4,"y":590},{"m":"o","p":"Novel lncRNAs","x":4,"y":540},{"m":"o","p":"Novel lncRNAs","x":4,"y":490},{"m":"o","p":"Novel lncRNAs","x":4,"y":440},{"m":"o","p":"Novel lncRNAs","x":4,"y":400},{"m":"o","p":"Novel lncRNAs","x":4,"y":360},{"m":"o","p":"Novel lncRNAs","x":4,"y":320}
  ],
  "C": [
   {"fc":-5.53,"pv":2.22,"g":"Downregulated: 21"},{"fc":-1.94,"pv":2.52,"g":"Downregulated: 21"},{"fc":-1.62,"pv":2.44,"g":"Downregulated: 21"},
   {"fc":-1.32,"pv":2.86,"g":"Downregulated: 21"},{"fc":-1.23,"pv":2.42,"g":"Downregulated: 21"},{"fc":-1.35,"pv":2.29,"g":"Downregulated: 21"},
   {"fc":-1.43,"pv":2.20,"g":"Downregulated: 21"},{"fc":-1.01,"pv":2.03,"g":"Downregulated: 21"},{"fc":-1.08,"pv":1.86,"g":"Downregulated: 21"},
   {"fc":-1.01,"pv":1.86,"g":"Downregulated: 21"},{"fc":-1.12,"pv":1.69,"g":"Downregulated: 21"},{"fc":-1.03,"pv":1.69,"g":"Downregulated: 21"},
   {"fc":-1.32,"pv":1.61,"g":"Downregulated: 21"},{"fc":-1.76,"pv":1.57,"g":"Downregulated: 21"},{"fc":-1.14,"pv":1.53,"g":"Downregulated: 21"},
   {"fc":-1.41,"pv":1.38,"g":"Downregulated: 21"},{"fc":-1.21,"pv":1.35,"g":"Downregulated: 21"},{"fc":-1.01,"pv":1.34,"g":"Downregulated: 21"},
   {"fc":-1.06,"pv":1.77,"g":"Downregulated: 21"},{"fc":-1.10,"pv":1.62,"g":"Downregulated: 21"},{"fc":-1.04,"pv":1.45,"g":"Downregulated: 21"},
   {"fc":1.72,"pv":3.47,"g":"Upregulated: 14"},{"fc":1.37,"pv":2.51,"g":"Upregulated: 14"},{"fc":1.07,"pv":2.31,"g":"Upregulated: 14"},
   {"fc":2.68,"pv":2.20,"g":"Upregulated: 14"},{"fc":1.50,"pv":2.09,"g":"Upregulated: 14"},{"fc":1.30,"pv":2.03,"g":"Upregulated: 14"},
   {"fc":1.14,"pv":1.93,"g":"Upregulated: 14"},{"fc":2.19,"pv":1.96,"g":"Upregulated: 14"},{"fc":2.25,"pv":1.87,"g":"Upregulated: 14"},
   {"fc":1.57,"pv":1.85,"g":"Upregulated: 14"},{"fc":1.31,"pv":1.61,"g":"Upregulated: 14"},{"fc":1.22,"pv":1.53,"g":"Upregulated: 14"},
   {"fc":1.79,"pv":1.52,"g":"Upregulated: 14"},{"fc":1.90,"pv":1.42,"g":"Upregulated: 14"},
   {"fc":0.68,"pv":3.12,"g":"p<0.05, up"},{"fc":1.0,"pv":2.99,"g":"p<0.05, up"},{"fc":0.79,"pv":2.22,"g":"p<0.05, up"},
   {"fc":0.42,"pv":2.03,"g":"p<0.05, up"},{"fc":0.62,"pv":2.03,"g":"p<0.05, up"},{"fc":0.55,"pv":1.93,"g":"p<0.05, up"},
   {"fc":0.46,"pv":1.86,"g":"p<0.05, up"},{"fc":0.33,"pv":1.69,"g":"p<0.05, up"},{"fc":0.40,"pv":1.68,"g":"p<0.05, up"},
   {"fc":0.64,"pv":1.76,"g":"p<0.05, up"},{"fc":0.32,"pv":1.53,"g":"p<0.05, up"},{"fc":0.48,"pv":1.53,"g":"p<0.05, up"},
   {"fc":0.62,"pv":1.53,"g":"p<0.05, up"},{"fc":0.81,"pv":1.53,"g":"p<0.05, up"},{"fc":0.96,"pv":1.53,"g":"p<0.05, up"},
   {"fc":0.37,"pv":1.46,"g":"p<0.05, up"},{"fc":0.51,"pv":1.46,"g":"p<0.05, up"},{"fc":0.78,"pv":1.46,"g":"p<0.05, up"},
   {"fc":0.33,"pv":1.38,"g":"p<0.05, up"},{"fc":0.57,"pv":1.38,"g":"p<0.05, up"},{"fc":0.74,"pv":1.38,"g":"p<0.05, up"},
   {"fc":-2.83,"pv":1.32,"g":"p<0.05, up"},{"fc":0.9,"pv":1.93,"g":"p<0.05, up"},{"fc":0.75,"pv":1.86,"g":"p<0.05, up"},
   {"fc":-0.87,"pv":2.31,"g":"p<0.05, down"},{"fc":-0.67,"pv":2.22,"g":"p<0.05, down"},{"fc":-0.47,"pv":2.22,"g":"p<0.05, down"},
   {"fc":-0.50,"pv":2.03,"g":"p<0.05, down"},{"fc":-0.55,"pv":1.93,"g":"p<0.05, down"},{"fc":-0.44,"pv":1.93,"g":"p<0.05, down"},
   {"fc":-0.67,"pv":1.86,"g":"p<0.05, down"},{"fc":-0.47,"pv":1.86,"g":"p<0.05, down"},{"fc":-0.84,"pv":1.76,"g":"p<0.05, down"},
   {"fc":-0.71,"pv":1.76,"g":"p<0.05, down"},{"fc":-0.53,"pv":1.76,"g":"p<0.05, down"},{"fc":-0.41,"pv":1.76,"g":"p<0.05, down"},
   {"fc":-0.87,"pv":1.68,"g":"p<0.05, down"},{"fc":-0.77,"pv":1.68,"g":"p<0.05, down"},{"fc":-0.67,"pv":1.68,"g":"p<0.05, down"},
   {"fc":-0.52,"pv":1.68,"g":"p<0.05, down"},{"fc":-0.34,"pv":1.68,"g":"p<0.05, down"},{"fc":-0.90,"pv":1.61,"g":"p<0.05, down"},
   {"fc":-0.77,"pv":1.61,"g":"p<0.05, down"},{"fc":-0.66,"pv":1.61,"g":"p<0.05, down"},{"fc":-0.54,"pv":1.61,"g":"p<0.05, down"},
   {"fc":-0.43,"pv":1.61,"g":"p<0.05, down"},{"fc":-0.81,"pv":1.52,"g":"p<0.05, down"},{"fc":-0.54,"pv":1.52,"g":"p<0.05, down"},
   {"fc":-0.40,"pv":1.52,"g":"p<0.05, down"},{"fc":-0.87,"pv":1.45,"g":"p<0.05, down"},{"fc":-0.50,"pv":1.45,"g":"p<0.05, down"},
   {"fc":-0.36,"pv":1.45,"g":"p<0.05, down"},{"fc":-0.95,"pv":1.38,"g":"p<0.05, down"},{"fc":-0.71,"pv":1.38,"g":"p<0.05, down"},
   {"fc":-0.44,"pv":1.38,"g":"p<0.05, down"},
   {"fc":-5.14,"pv":0.31,"g":"n.s. outer"},{"fc":-2.48,"pv":1.14,"g":"n.s. outer"},{"fc":-2.24,"pv":1.23,"g":"n.s. outer"},
   {"fc":-2.33,"pv":0.68,"g":"n.s. outer"},{"fc":-2.34,"pv":0.01,"g":"n.s. outer"},{"fc":-2.06,"pv":0.2,"g":"n.s. outer"},
   {"fc":-1.70,"pv":0.6,"g":"n.s. outer"},{"fc":-1.69,"pv":0.34,"g":"n.s. outer"},{"fc":-1.78,"pv":1.23,"g":"n.s. outer"},
   {"fc":-1.42,"pv":1.0,"g":"n.s. outer"},{"fc":-1.35,"pv":0.84,"g":"n.s. outer"},{"fc":-1.32,"pv":0.73,"g":"n.s. outer"},
   {"fc":-1.25,"pv":0.62,"g":"n.s. outer"},{"fc":-1.39,"pv":0.47,"g":"n.s. outer"},{"fc":-1.19,"pv":0.33,"g":"n.s. outer"},
   {"fc":-1.12,"pv":0.18,"g":"n.s. outer"},{"fc":-1.28,"pv":0.95,"g":"n.s. outer"},{"fc":-1.55,"pv":1.08,"g":"n.s. outer"},
   {"fc":-0.98,"pv":0.76,"g":"n.s. outer"},{"fc":-0.94,"pv":0.54,"g":"n.s. outer"},{"fc":-1.05,"pv":0.4,"g":"n.s. outer"},
   {"fc":-1.1,"pv":1.15,"g":"n.s. outer"},{"fc":-0.95,"pv":1.05,"g":"n.s. outer"},{"fc":-0.92,"pv":0.25,"g":"n.s. outer"},
   {"fc":1.14,"pv":1.14,"g":"n.s. outer"},{"fc":1.34,"pv":1.03,"g":"n.s. outer"},{"fc":1.47,"pv":0.92,"g":"n.s. outer"},
   {"fc":1.27,"pv":0.84,"g":"n.s. outer"},{"fc":1.61,"pv":1.05,"g":"n.s. outer"},{"fc":1.74,"pv":0.76,"g":"n.s. outer"},
   {"fc":1.21,"pv":0.62,"g":"n.s. outer"},{"fc":1.47,"pv":0.4,"g":"n.s. outer"},{"fc":1.88,"pv":0.47,"g":"n.s. outer"},
   {"fc":1.85,"pv":0.4,"g":"n.s. outer"},{"fc":2.22,"pv":1.14,"g":"n.s. outer"},{"fc":2.55,"pv":0.69,"g":"n.s. outer"},
   {"fc":2.71,"pv":0.18,"g":"n.s. outer"},{"fc":3.12,"pv":1.2,"g":"n.s. outer"},{"fc":3.73,"pv":1.07,"g":"n.s. outer"},
   {"fc":2.63,"pv":1.18,"g":"n.s. outer"},{"fc":1.1,"pv":0.26,"g":"n.s. outer"},{"fc":0.91,"pv":0.92,"g":"n.s. outer"},
   {"fc":0.98,"pv":0.69,"g":"n.s. outer"},{"fc":1.05,"pv":0.51,"g":"n.s. outer"},{"fc":1.0,"pv":1.2,"g":"n.s. outer"},
   {"fc":1.3,"pv":1.22,"g":"n.s. outer"},{"fc":0.95,"pv":0.3,"g":"n.s. outer"},
   {"fc":-0.5,"pv":0.0,"g":"n.s."},{"fc":-0.35,"pv":0.0,"g":"n.s."},{"fc":-0.2,"pv":0.0,"g":"n.s."},{"fc":-0.05,"pv":0.0,"g":"n.s."},{"fc":0.1,"pv":0.0,"g":"n.s."},{"fc":0.25,"pv":0.0,"g":"n.s."},{"fc":0.4,"pv":0.0,"g":"n.s."},
   {"fc":-0.6,"pv":0.1,"g":"n.s."},{"fc":-0.45,"pv":0.1,"g":"n.s."},{"fc":-0.3,"pv":0.1,"g":"n.s."},{"fc":-0.15,"pv":0.1,"g":"n.s."},{"fc":0.0,"pv":0.1,"g":"n.s."},{"fc":0.15,"pv":0.1,"g":"n.s."},{"fc":0.3,"pv":0.1,"g":"n.s."},{"fc":0.45,"pv":0.1,"g":"n.s."},{"fc":0.55,"pv":0.1,"g":"n.s."},
   {"fc":-0.68,"pv":0.2,"g":"n.s."},{"fc":-0.53,"pv":0.2,"g":"n.s."},{"fc":-0.38,"pv":0.2,"g":"n.s."},{"fc":-0.23,"pv":0.2,"g":"n.s."},{"fc":-0.08,"pv":0.2,"g":"n.s."},{"fc":0.07,"pv":0.2,"g":"n.s."},{"fc":0.22,"pv":0.2,"g":"n.s."},{"fc":0.37,"pv":0.2,"g":"n.s."},{"fc":0.52,"pv":0.2,"g":"n.s."},{"fc":0.62,"pv":0.2,"g":"n.s."},
   {"fc":-0.72,"pv":0.3,"g":"n.s."},{"fc":-0.57,"pv":0.3,"g":"n.s."},{"fc":-0.42,"pv":0.3,"g":"n.s."},{"fc":-0.27,"pv":0.3,"g":"n.s."},{"fc":-0.12,"pv":0.3,"g":"n.s."},{"fc":0.03,"pv":0.3,"g":"n.s."},{"fc":0.18,"pv":0.3,"g":"n.s."},{"fc":0.33,"pv":0.3,"g":"n.s."},{"fc":0.48,"pv":0.3,"g":"n.s."},{"fc":0.63,"pv":0.3,"g":"n.s."},
   {"fc":-0.75,"pv":0.4,"g":"n.s."},{"fc":-0.6,"pv":0.4,"g":"n.s."},{"fc":-0.45,"pv":0.4,"g":"n.s."},{"fc":-0.3,"pv":0.4,"g":"n.s."},{"fc":-0.15,"pv":0.4,"g":"n.s."},{"fc":0.0,"pv":0.4,"g":"n.s."},{"fc":0.15,"pv":0.4,"g":"n.s."},{"fc":0.3,"pv":0.4,"g":"n.s."},{"fc":0.45,"pv":0.4,"g":"n.s."},{"fc":0.6,"pv":0.4,"g":"n.s."},{"fc":0.7,"pv":0.4,"g":"n.s."},
   {"fc":-0.76,"pv":0.5,"g":"n.s."},{"fc":-0.62,"pv":0.5,"g":"n.s."},{"fc":-0.48,"pv":0.5,"g":"n.s."},{"fc":-0.34,"pv":0.5,"g":"n.s."},{"fc":-0.2,"pv":0.5,"g":"n.s."},{"fc":-0.05,"pv":0.5,"g":"n.s."},{"fc":0.08,"pv":0.5,"g":"n.s."},{"fc":0.2,"pv":0.5,"g":"n.s."},{"fc":0.34,"pv":0.5,"g":"n.s."},{"fc":0.48,"pv":0.5,"g":"n.s."},{"fc":0.62,"pv":0.5,"g":"n.s."},{"fc":0.74,"pv":0.5,"g":"n.s."},
   {"fc":-0.78,"pv":0.6,"g":"n.s."},{"fc":-0.64,"pv":0.6,"g":"n.s."},{"fc":-0.5,"pv":0.6,"g":"n.s."},{"fc":-0.36,"pv":0.6,"g":"n.s."},{"fc":-0.22,"pv":0.6,"g":"n.s."},{"fc":0.22,"pv":0.6,"g":"n.s."},{"fc":0.36,"pv":0.6,"g":"n.s."},{"fc":0.5,"pv":0.6,"g":"n.s."},{"fc":0.64,"pv":0.6,"g":"n.s."},{"fc":0.78,"pv":0.6,"g":"n.s."},
   {"fc":-0.8,"pv":0.7,"g":"n.s."},{"fc":-0.66,"pv":0.7,"g":"n.s."},{"fc":-0.52,"pv":0.7,"g":"n.s."},{"fc":-0.38,"pv":0.7,"g":"n.s."},{"fc":-0.26,"pv":0.7,"g":"n.s."},{"fc":0.24,"pv":0.7,"g":"n.s."},{"fc":0.38,"pv":0.7,"g":"n.s."},{"fc":0.52,"pv":0.7,"g":"n.s."},{"fc":0.66,"pv":0.7,"g":"n.s."},{"fc":0.8,"pv":0.7,"g":"n.s."},
   {"fc":-0.8,"pv":0.8,"g":"n.s."},{"fc":-0.66,"pv":0.8,"g":"n.s."},{"fc":-0.52,"pv":0.8,"g":"n.s."},{"fc":-0.38,"pv":0.8,"g":"n.s."},{"fc":0.26,"pv":0.8,"g":"n.s."},{"fc":0.4,"pv":0.8,"g":"n.s."},{"fc":0.54,"pv":0.8,"g":"n.s."},{"fc":0.68,"pv":0.8,"g":"n.s."},{"fc":0.82,"pv":0.8,"g":"n.s."},
   {"fc":-0.82,"pv":0.9,"g":"n.s."},{"fc":-0.68,"pv":0.9,"g":"n.s."},{"fc":-0.54,"pv":0.9,"g":"n.s."},{"fc":-0.4,"pv":0.9,"g":"n.s."},{"fc":0.27,"pv":0.9,"g":"n.s."},{"fc":0.41,"pv":0.9,"g":"n.s."},{"fc":0.55,"pv":0.9,"g":"n.s."},{"fc":0.69,"pv":0.9,"g":"n.s."},{"fc":0.83,"pv":0.9,"g":"n.s."},
   {"fc":-0.84,"pv":1.0,"g":"n.s."},{"fc":-0.7,"pv":1.0,"g":"n.s."},{"fc":-0.56,"pv":1.0,"g":"n.s."},{"fc":-0.42,"pv":1.0,"g":"n.s."},{"fc":-0.3,"pv":1.0,"g":"n.s."},{"fc":0.28,"pv":1.0,"g":"n.s."},{"fc":0.42,"pv":1.0,"g":"n.s."},{"fc":0.56,"pv":1.0,"g":"n.s."},{"fc":0.7,"pv":1.0,"g":"n.s."},{"fc":0.85,"pv":1.0,"g":"n.s."},
   {"fc":-0.86,"pv":1.1,"g":"n.s."},{"fc":-0.72,"pv":1.1,"g":"n.s."},{"fc":-0.58,"pv":1.1,"g":"n.s."},{"fc":-0.44,"pv":1.1,"g":"n.s."},{"fc":-0.3,"pv":1.1,"g":"n.s."},{"fc":0.3,"pv":1.1,"g":"n.s."},{"fc":0.44,"pv":1.1,"g":"n.s."},{"fc":0.58,"pv":1.1,"g":"n.s."},{"fc":0.72,"pv":1.1,"g":"n.s."},{"fc":0.87,"pv":1.1,"g":"n.s."},
   {"fc":-0.88,"pv":1.2,"g":"n.s."},{"fc":-0.74,"pv":1.2,"g":"n.s."},{"fc":-0.6,"pv":1.2,"g":"n.s."},{"fc":-0.46,"pv":1.2,"g":"n.s."},{"fc":-0.32,"pv":1.2,"g":"n.s."},{"fc":0.3,"pv":1.2,"g":"n.s."},{"fc":0.44,"pv":1.2,"g":"n.s."},{"fc":0.58,"pv":1.2,"g":"n.s."},{"fc":0.72,"pv":1.2,"g":"n.s."},{"fc":0.88,"pv":1.2,"g":"n.s."},
   {"fc":-0.1,"pv":0.75,"g":"n.s."},{"fc":0.05,"pv":0.65,"g":"n.s."},{"fc":0.12,"pv":0.9,"g":"n.s."}
  ]
 },
 "vconcat": [
  {
   "hconcat": [
    {
     "data": {"name": "A"},
     "title": {"text": "A", "orient": "left", "anchor": "end", "angle": 0, "align": "right", "baseline": "top", "offset": 4, "dy": -8},
     "facet": {"column": {"field": "p", "type": "nominal", "title": "CPM threshold", "header": {"labels": false, "titleOrient": "bottom", "titleFontSize": 13, "titleFontWeight": "normal", "titleColor": "#000", "titleFont": "Liberation Sans", "titlePadding": -11}}},
     "spacing": 3,
     "spec": {
      "width": 92, "height": 163,
      "layer": [
       {"transform": [{"filter": "datum.m == 'v'"}],
        "mark": {"type": "area", "orient": "horizontal", "stroke": "#333", "strokeWidth": 0.4},
        "encoding": {
         "y": {"field": "y", "type": "quantitative", "scale": {"domain": [-104, 2307], "nice": false, "zero": false},
               "axis": {"values": [0,250,500,750,1000,1250,1500,1750,2000], "format": "d", "labelExpr": "datum.value % 500 == 0 ? datum.label : ''", "title": "lncRNAs number", "titleFontSize": 12, "labelFontSize": 9, "tickSize": 3, "titlePadding": 1, "labelPadding": 2,
                        "tickColor": {"condition": {"test": "datum.value % 500 != 0", "value": "transparent"}, "value": "#333"},
                        "gridColor": {"condition": {"test": "datum.value % 500 != 0", "value": "#f2f2f2"}, "value": "#e3e3e3"}}},
         "x": {"field": "lo", "type": "quantitative", "stack": null, "scale": {"domain": [0.4, 4.6], "nice": false, "zero": false},
               "axis": {"values": [1,2,3,4], "tickCount": 4, "labelExpr": "['', '>1 CPM', '>5 CPM', '>10 CPM', '>20 CPM'][round(datum.value)]", "labelAngle": -90, "labelAlign": "right", "labelBaseline": "middle", "labelFontSize": 8.2, "labelOverlap": false, "labelSeparation": -60, "labelBound": false, "labelFlush": false, "grid": true, "gridColor": "#e3e3e3", "tickSize": 3, "title": null, "labelPadding": 2}},
         "x2": {"field": "hi"},
         "color": {"field": "t", "type": "nominal", "scale": {"domain": [">1 CPM", ">5 CPM", ">10 CPM", ">20 CPM"], "range": ["#d4d4d4", "#9b9b9b", "#5c5c5c", "#222222"]},
                   "legend": {"title": "Threshold", "symbolType": "square", "symbolSize": 70, "symbolStrokeColor": "#333", "symbolStrokeWidth": 0.6, "titleFontSize": 7, "titleFontWeight": "normal", "labelFontSize": 5.5, "labelOffset": 3, "rowPadding": 1, "titlePadding": 4, "offset": 5, "padding": 0}}
        }},
       {"transform": [{"filter": "datum.m == 'b'"}],
        "mark": {"type": "rule", "color": "#111", "strokeWidth": 0.7},
        "encoding": {
         "x": {"field": "x", "type": "quantitative", "scale": {"domain": [0.4, 4.6], "nice": false, "zero": false}, "title": null},
         "y": {"field": "lw", "type": "quantitative", "scale": {"domain": [-104, 2307], "nice": false, "zero": false}, "title": "lncRNAs number"},
         "y2": {"field": "uw"}
        }},
       {"transform": [{"filter": "datum.m == 'b'"}],
        "mark": {"type": "bar", "size": 4, "fill": "white", "fillOpacity": 0.75, "stroke": "#111", "strokeWidth": 0.6},
        "encoding": {
         "x": {"field": "x", "type": "quantitative", "scale": {"domain": [0.4, 4.6], "nice": false, "zero": false}, "title": null},
         "y": {"field": "q1", "type": "quantitative", "scale": {"domain": [-104, 2307], "nice": false, "zero": false}, "title": "lncRNAs number"},
         "y2": {"field": "q3"}
        }},
       {"transform": [{"filter": "datum.m == 'b'"}],
        "mark": {"type": "point", "shape": "stroke", "size": 16, "color": "#111", "strokeWidth": 1, "opacity": 1},
        "encoding": {
         "x": {"field": "x", "type": "quantitative", "scale": {"domain": [0.4, 4.6], "nice": false, "zero": false}, "title": null},
         "y": {"field": "md", "type": "quantitative", "scale": {"domain": [-104, 2307], "nice": false, "zero": false}, "title": "lncRNAs number"}
        }},
       {"transform": [{"filter": "datum.m == 'o'"}],
        "mark": {"type": "point", "shape": "square", "filled": true, "size": 7, "color": "#111", "opacity": 1},
        "encoding": {
         "x": {"field": "x", "type": "quantitative", "scale": {"domain": [0.4, 4.6], "nice": false, "zero": false}, "title": null},
         "y": {"field": "y", "type": "quantitative", "scale": {"domain": [-104, 2307], "nice": false, "zero": false}, "title": "lncRNAs number"}
        }},
       {"transform": [{"filter": "datum.m == 's'"}],
        "mark": {"type": "rect", "fill": "#d9d9d9", "stroke": "#666", "strokeWidth": 1},
        "encoding": {
         "x": {"datum": 0.4, "type": "quantitative", "scale": {"domain": [0.4, 4.6], "nice": false, "zero": false}, "title": null},
         "x2": {"datum": 4.6},
         "y": {"datum": 2100, "type": "quantitative", "scale": {"domain": [-104, 2307], "nice": false, "zero": false}, "title": "lncRNAs number"},
         "y2": {"datum": 2307}
        }},
       {"transform": [{"filter": "datum.m == 's'"}],
        "mark": {"type": "text", "fontSize": 12, "color": "#1a1a1a", "baseline": "middle"},
        "encoding": {
         "x": {"datum": 2.5, "type": "quantitative", "scale": {"domain": [0.4, 4.6], "nice": false, "zero": false}, "title": null},
         "y": {"datum": 2200, "type": "quantitative", "scale": {"domain": [-104, 2307], "nice": false, "zero": false}, "title": "lncRNAs number"},
         "text": {"field": "p"}
        }}
      ]
     }
    },
    {
     "data": {"name": "B"},
     "title": {"text": "B", "orient": "left", "anchor": "end", "angle": 0, "align": "right", "baseline": "top", "offset": 4, "dy": -8},
     "facet": {"column": {"field": "p", "type": "nominal", "title": "CPM threshold", "header": {"labels": false, "titleOrient": "bottom", "titleFontSize": 13, "titleFontWeight": "normal", "titleColor": "#000", "titleFont": "Liberation Sans", "titlePadding": -11}}},
     "spacing": 3,
     "spec": {
      "width": 92, "height": 161,
      "layer": [
       {"transform": [{"filter": "datum.m == 'v'"}],
        "mark": {"type": "area", "orient": "horizontal", "stroke": "#333", "strokeWidth": 0.4},
        "encoding": {
         "y": {"field": "y", "type": "quantitative", "scale": {"domain": [-144, 3536], "nice": false, "zero": false},
               "axis": {"values": [0,500,1000,1500,2000,2500,3000], "format": "d", "labelExpr": "datum.value % 1000 == 0 ? datum.label : ''", "title": "lncRNAs number", "titleFontSize": 12, "labelFontSize": 9, "tickSize": 3, "titlePadding": 1, "labelPadding": 2,
                        "tickColor": {"condition": {"test": "datum.value % 1000 != 0", "value": "transparent"}, "value": "#333"},
                        "gridColor": {"condition": {"test": "datum.value % 1000 != 0", "value": "#f2f2f2"}, "value": "#e3e3e3"}}},
         "x": {"field": "lo", "type": "quantitative", "stack": null, "scale": {"domain": [0.4, 4.6], "nice": false, "zero": false},
               "axis": {"values": [1,2,3,4], "tickCount": 4, "labelExpr": "['', '>1 CPM', '>5 CPM', '>10 CPM', '>20 CPM'][round(datum.value)]", "labelAngle": -90, "labelAlign": "right", "labelBaseline": "middle", "labelFontSize": 8.2, "labelOverlap": false, "labelSeparation": -60, "labelBound": false, "labelFlush": false, "grid": true, "gridColor": "#e3e3e3", "tickSize": 3, "title": null, "labelPadding": 2}},
         "x2": {"field": "hi"},
         "color": {"field": "t", "type": "nominal", "scale": {"domain": [">1 CPM", ">5 CPM", ">10 CPM", ">20 CPM"], "range": ["#d4d4d4", "#9b9b9b", "#5c5c5c", "#222222"]},
                   "legend": {"title": "Threshold", "symbolType": "square", "symbolSize": 70, "symbolStrokeColor": "#333", "symbolStrokeWidth": 0.6, "titleFontSize": 7, "titleFontWeight": "normal", "labelFontSize": 5.5, "labelOffset": 3, "rowPadding": 1, "titlePadding": 4, "offset": 5, "padding": 0}}
        }},
       {"transform": [{"filter": "datum.m == 'b'"}],
        "mark": {"type": "rule", "color": "#111", "strokeWidth": 0.7},
        "encoding": {
         "x": {"field": "x", "type": "quantitative", "scale": {"domain": [0.4, 4.6], "nice": false, "zero": false}, "title": null},
         "y": {"field": "lw", "type": "quantitative", "scale": {"domain": [-144, 3536], "nice": false, "zero": false}, "title": "lncRNAs number"},
         "y2": {"field": "uw"}
        }},
       {"transform": [{"filter": "datum.m == 'b'"}],
        "mark": {"type": "bar", "size": 4, "fill": "white", "fillOpacity": 0.75, "stroke": "#111", "strokeWidth": 0.6},
        "encoding": {
         "x": {"field": "x", "type": "quantitative", "scale": {"domain": [0.4, 4.6], "nice": false, "zero": false}, "title": null},
         "y": {"field": "q1", "type": "quantitative", "scale": {"domain": [-144, 3536], "nice": false, "zero": false}, "title": "lncRNAs number"},
         "y2": {"field": "q3"}
        }},
       {"transform": [{"filter": "datum.m == 'b'"}],
        "mark": {"type": "point", "shape": "stroke", "size": 16, "color": "#111", "strokeWidth": 1, "opacity": 1},
        "encoding": {
         "x": {"field": "x", "type": "quantitative", "scale": {"domain": [0.4, 4.6], "nice": false, "zero": false}, "title": null},
         "y": {"field": "md", "type": "quantitative", "scale": {"domain": [-144, 3536], "nice": false, "zero": false}, "title": "lncRNAs number"}
        }},
       {"transform": [{"filter": "datum.m == 'o'"}],
        "mark": {"type": "point", "shape": "square", "filled": true, "size": 7, "color": "#111", "opacity": 1},
        "encoding": {
         "x": {"field": "x", "type": "quantitative", "scale": {"domain": [0.4, 4.6], "nice": false, "zero": false}, "title": null},
         "y": {"field": "y", "type": "quantitative", "scale": {"domain": [-144, 3536], "nice": false, "zero": false}, "title": "lncRNAs number"}
        }},
       {"transform": [{"filter": "datum.m == 's'"}],
        "mark": {"type": "rect", "fill": "#d9d9d9", "stroke": "#666", "strokeWidth": 1},
        "encoding": {
         "x": {"datum": 0.4, "type": "quantitative", "scale": {"domain": [0.4, 4.6], "nice": false, "zero": false}, "title": null},
         "x2": {"datum": 4.6},
         "y": {"datum": 3173, "type": "quantitative", "scale": {"domain": [-144, 3536], "nice": false, "zero": false}, "title": "lncRNAs number"},
         "y2": {"datum": 3536}
        }},
       {"transform": [{"filter": "datum.m == 's'"}],
        "mark": {"type": "text", "fontSize": 12, "color": "#1a1a1a", "baseline": "middle"},
        "encoding": {
         "x": {"datum": 2.5, "type": "quantitative", "scale": {"domain": [0.4, 4.6], "nice": false, "zero": false}, "title": null},
         "y": {"datum": 3350, "type": "quantitative", "scale": {"domain": [-144, 3536], "nice": false, "zero": false}, "title": "lncRNAs number"},
         "text": {"field": "p"}
        }}
      ]
     }
    }
   ],
   "spacing": 0,
   "resolve": {"scale": {"color": "independent"}, "legend": {"color": "independent"}}
  },
  {
   "hconcat": [
    {"width": 167, "height": 1, "data": {"values": []}, "mark": "point", "encoding": {}, "view": {"stroke": null}},
    {
     "data": {"name": "C"},
     "width": 245, "height": 172,
     "title": {"text": "C", "orient": "left", "anchor": "end", "angle": 0, "align": "right", "baseline": "top", "offset": -18, "dy": -7},
     "view": {"stroke": "#555"},
     "layer": [
      {"transform": [{"filter": "datum.g == 'n.s.'"}],
       "mark": {"type": "point", "shape": "square", "filled": true, "size": 12, "opacity": 1},
       "encoding": {
        "x": {"field": "fc", "type": "quantitative", "scale": {"domain": [-5.9, 4.14], "nice": false, "zero": false},
              "axis": {"values": [-4,-2,0,2,4], "format": "d", "labelFontSize": 6, "labelColor": "#333", "tickSize": 3, "grid": false, "title": "Fold change (in log2)", "titleFontSize": 6, "titlePadding": 5, "labelPadding": 3}},
        "y": {"field": "pv", "type": "quantitative", "scale": {"domain": [-0.145, 3.63], "nice": false, "zero": false},
              "axis": {"values": [0,0.5,1,1.5,2,2.5,3,3.5], "format": ".1f", "labelAngle": -90, "labelAlign": "center", "labelBaseline": "bottom", "labelFontSize": 5, "labelColor": "#333", "tickSize": 3, "grid": false, "title": "p_value (in -log10)", "titleFontSize": 6, "titlePadding": 16, "labelPadding": 3}},
        "color": {"field": "g", "type": "nominal",
                  "scale": {"domain": ["Upregulated: 14", "Downregulated: 21", "p<0.05, down", "p<0.05, up", "n.s. outer", "n.s."], "range": ["#e3202a", "#1f1fd6", "#8fcbe8", "#f2a2a2", "#9a9a9a", "#000000"]},
                  "legend": {"orient": "top-left", "values": ["Upregulated: 14", "Downregulated: 21"], "title": null, "labelFontSize": 5, "symbolSize": 12, "symbolType": "circle", "strokeColor": "#333", "fillColor": "white", "padding": 4, "offset": 1, "rowPadding": 3, "labelOffset": 3}}
       }},
      {"mark": {"type": "rule", "color": "#b8b8b8", "strokeDash": [1, 2], "strokeWidth": 1},
       "encoding": {"x": {"datum": -1, "type": "quantitative", "title": "Fold change (in log2)"}}},
      {"mark": {"type": "rule", "color": "#b8b8b8", "strokeDash": [1, 2], "strokeWidth": 1},
       "encoding": {"x": {"datum": 1, "type": "quantitative", "title": "Fold change (in log2)"}}},
      {"transform": [{"filter": "datum.g == 'n.s. outer'"}],
       "mark": {"type": "point", "shape": "circle", "filled": true, "size": 6, "opacity": 1},
       "encoding": {
        "x": {"field": "fc", "type": "quantitative", "title": "Fold change (in log2)"},
        "y": {"field": "pv", "type": "quantitative", "title": "p_value (in -log10)"},
        "color": {"field": "g", "type": "nominal"}
       }},
      {"transform": [{"filter": "datum.g == 'p<0.05, down' || datum.g == 'p<0.05, up'"}],
       "mark": {"type": "point", "shape": "circle", "filled": true, "size": 7, "opacity": 1},
       "encoding": {
        "x": {"field": "fc", "type": "quantitative", "title": "Fold change (in log2)"},
        "y": {"field": "pv", "type": "quantitative", "title": "p_value (in -log10)"},
        "color": {"field": "g", "type": "nominal"}
       }},
      {"mark": {"type": "rule", "color": "#e0202c", "strokeWidth": 2},
       "encoding": {"y": {"datum": 1.3, "type": "quantitative", "title": "p_value (in -log10)"}}},
      {"transform": [{"filter": "datum.g == 'Upregulated: 14' || datum.g == 'Downregulated: 21'"}],
       "mark": {"type": "point", "shape": "circle", "filled": true, "size": 12, "opacity": 1},
       "encoding": {
        "x": {"field": "fc", "type": "quantitative", "title": "Fold change (in log2)"},
        "y": {"field": "pv", "type": "quantitative", "title": "p_value (in -log10)"},
        "color": {"field": "g", "type": "nominal"}
       }}
     ]
    }
   ],
   "spacing": 0,
   "resolve": {"scale": {"color": "independent"}, "legend": {"color": "independent"}}
  }
 ],
 "spacing": 12,
 "resolve": {"scale": {"color": "independent"}, "legend": {"color": "independent"}}
}
